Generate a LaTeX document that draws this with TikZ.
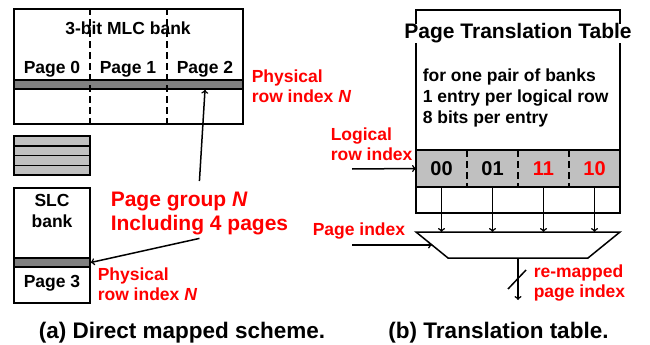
\documentclass[tikz,border=0pt]{standalone}
\usepackage{fontspec}
\setmainfont{Liberation Sans}
\usetikzlibrary{arrows,positioning,calc}

\definecolor{rowgray}{RGB}{128,128,128}
\definecolor{cellgray}{RGB}{192,192,192}

\tikzset{
  lbl/.style={font=\bfseries\fontsize{17.5}{20}\selectfont, inner sep=0},
  redlbl/.style={font=\bfseries\fontsize{17.5}{20}\selectfont, text=red, align=left, anchor=north west, inner sep=0},
  bank/.style={draw, inner sep=0, minimum width=#1},
  bar/.style={draw, fill=rowgray, inner sep=0, minimum height=9pt},
  stripe/.style={draw, fill=cellgray, inner sep=0, outer sep=0, minimum width=76pt, minimum height=9.75pt},
  cell/.style={fill=cellgray, inner sep=0, outer sep=0, minimum width=51pt, minimum height=37pt, font=\bfseries\fontsize{20}{22}\selectfont},
  caption/.style={font=\bfseries\fontsize{22.5}{26}\selectfont, inner sep=0, anchor=base},
  divider/.style={dash pattern=on 7pt off 4pt}
}

\begin{document}
\begin{tikzpicture}[x=1pt, y=-1pt, line width=1.5pt]
\useasboundingbox (0,0) rectangle (650,345);

% (a) direct mapped
\node[bank=229pt, minimum height=115pt] (mlc) at (128.5,66.5) {};
\node[bar, minimum width=229pt] (mlcrow) at (128.5,84.5) {};
\draw[divider] ($(mlc.north west)!1/3!(mlc.north east)$) -- ($(mlc.south west)!1/3!(mlc.south east)$);
\draw[divider] ($(mlc.north west)!2/3!(mlc.north east)$) -- ($(mlc.south west)!2/3!(mlc.south east)$);
\node[lbl, anchor=base] (mlct) at (128,35) {3-bit MLC bank};
\node[lbl, anchor=base] (p0) at (52,74) {Page 0};
\node[lbl, anchor=base] (p1) at (128,74) {Page 1};
\node[lbl, anchor=base] (p2) at (205,74) {Page 2};
\node[redlbl] (phys1) at (251,69.5) {Physical\\row index \textit{N}};

\node[stripe] (s0) at (52,141) {};
\foreach \i [count=\j from 0] in {1,2,3}
  \node[stripe, below=0pt of s\j] (s\i) {};

\node[bank=76pt, minimum height=115pt] (slc) at (52,245.5) {};
\node[bar, minimum width=76pt] (slcrow) at (52,262.5) {};
\node[lbl, anchor=base] (slct) at (52,206) {SLC};
\node[lbl, anchor=base] (slcb) at (52,227) {bank};
\node[lbl, anchor=base] (p3) at (52,287) {Page 3};
\node[redlbl] (phys2) at (97,267.5) {Physical\\row index \textit{N}};

\node[redlbl, font=\bfseries\fontsize{21}{24}\selectfont] (grp) at (110,191) {Page group \textit{N}\\Including 4 pages};
\draw[->] ([yshift=10pt]grp.north) -- (p2 |- mlcrow.south);
\draw[->] ([yshift=-3pt]grp.south) -- (slcrow.east);

% (b) translation table
\node[bank=204pt, minimum height=203pt] (ptt) at (518,111.5) {};
\node[lbl, anchor=base, fill=white, font=\bfseries\fontsize{21}{24}\selectfont] (pttt) at (518,39) {Page Translation Table};
\node[lbl, align=left, anchor=north west, font=\bfseries\fontsize{17.5}{21}\selectfont] (pttd) at (422,68)
  {for one pair of banks\\1 entry per logical row\\8 bits per entry};

\node[cell] (c0) at (441.5,168.5) {00};
\node[cell, right=0pt of c0] (c1) {01};
\node[cell, right=0pt of c1, text=red] (c2) {11};
\node[cell, right=0pt of c2, text=red] (c3) {10};
\draw (c0.north west) rectangle (c3.south east);
\foreach \i in {0,1,2}
  \draw[divider] (c\i.north east) -- (c\i.south east);

% mux
\coordinate (muxn) at (518,232);
\coordinate (muxw) at (432,245);
\coordinate (muxs) at (518,258);
\draw (416,232) -- (620,232) -- (588,258) -- (448,258) -- cycle;
\foreach \i in {0,...,3}
  \draw[->] (c\i.south) -- (c\i.south |- muxn);

\coordinate (lin) at (352,169);
\draw[->] (lin) -- (c0.west);
\node[redlbl] (lri) at (330,127.5) {Logical\\row index};

\coordinate (pin) at (352,245);
\draw[->] (pin) -- (muxw);
\node[redlbl] (pgi) at (312,222.5) {Page index};

\coordinate (mout) at (518,300);
\draw[->] (muxs) -- (mout);
\draw ($(muxs)!0.5!(mout)+(-10,10)$) -- ++(18,-19);
\node[redlbl] (rmp) at (533,264) {re-mapped\\page index};

\node[caption] (capa) at (182,338) {(a) Direct mapped scheme.};
\node[caption] (capb) at (498.5,338) {(b) Translation table.};
\end{tikzpicture}
\end{document}
